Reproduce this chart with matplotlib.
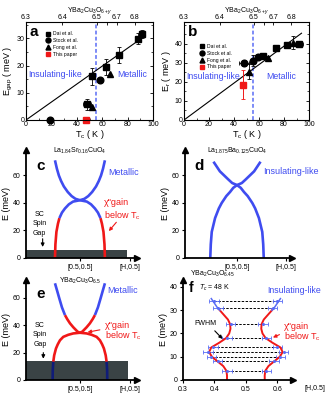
import matplotlib
matplotlib.use("Agg")
import matplotlib.pyplot as plt
import numpy as np

plt.rcParams['font.family'] = ['Liberation Sans', 'DejaVu Sans']
plt.rcParams['mathtext.fontset'] = 'custom'
plt.rcParams['mathtext.rm'] = 'Liberation Sans'
plt.rcParams['mathtext.it'] = 'Liberation Sans:italic'

BLUE = "#3f4cf0"
LBLUE = "#5a6cf5"
RED = "#f01818"
NAVY = "#101c78"
GRAY = "#3a4345"

# ---- panel a: spin gap vs Tc ----
a_dai_T = [48, 52, 63, 73.5, 88.5, 91.5]
a_dai_E = [5.7, 16, 19.5, 23.8, 29.9, 31.7]
a_dai_err = [2, 3, 3, 3, 2, 1.5]
a_stock_T = [19, 58.5]
a_stock_E = [0, 14.7]
a_fong_T = [52, 66]
a_fong_E = [4.9, 16.8]
a_this_T = [47]
a_this_E = [0]
a_fit = [(0, 0), (94, 31)]

# ---- panel b: resonance energy vs Tc ----
b_dai_T = [63.5, 73.5, 82, 92]
b_dai_E = [33.8, 37.7, 39.5, 40.2]
b_dai_err = [1, 1.2, 1, 1.5]
b_stock_T = [48, 55, 59.5]
b_stock_E = [30, 31.2, 33.3]
b_stock_err = [1.5, 3, 1.5]
b_fong_T = [52, 67, 87]
b_fong_E = [25.4, 32.5, 40.7]
b_fong_err = [4, 1, 3.5]
b_this_T = [47]
b_this_E = [18.6]
b_this_err = [7.5]
b_fit = [(0, 0), (94, 45.6)]

# top axis (YBCO oxygen content)
dop_pos = [0, 28.6, 55.6, 63.7, 71.4, 85.8]
dop_lab = ["6.3", "6.4", "6.5", "", "6.7", "6.8"]

# ---- schematic dispersions (energy, half width) ----
c_low_E = [0, 10, 19, 25, 29, 33, 36, 39, 41, 42]
c_low_w = [0.225, 0.221, 0.212, 0.198, 0.185, 0.162, 0.135, 0.1, 0.062, 0.0]
c_up_E = [42, 43, 45, 48, 52, 56, 60, 65, 71]
c_up_w = [0.0, 0.04, 0.075, 0.11, 0.145, 0.17, 0.19, 0.208, 0.225]

d_low_E = [0, 10, 19, 29, 36, 40, 45, 48, 51, 53]
d_low_w = [0.25, 0.245, 0.236, 0.205, 0.17, 0.143, 0.1, 0.065, 0.035, 0.0]
d_up_E = [53, 54.5, 57, 60, 63, 66.5, 70]
d_up_w = [0.0, 0.045, 0.08, 0.12, 0.16, 0.19, 0.22]

e_low_E = [0, 7, 13.4, 18, 23, 26, 29, 31.5, 33, 34, 34.5]
e_low_w = [0.246, 0.245, 0.24, 0.232, 0.216, 0.2, 0.18, 0.15, 0.105, 0.06, 0.0]
e_up_E = [34.5, 35.2, 36.5, 38.5, 41.4, 44.5, 47.4, 53, 59.6, 65, 70.6]
e_up_w = [0.0, 0.02, 0.036, 0.06, 0.09, 0.115, 0.135, 0.162, 0.186, 0.205, 0.225]

# ---- panel f: measured peak positions ----
f_E = [4, 8, 10, 12, 14, 18, 24, 31, 34]
f_left = [0.44, 0.41, 0.39, 0.38, 0.395, 0.44, 0.452, 0.412, 0.398]
f_right = [0.565, 0.59, 0.61, 0.62, 0.60, 0.565, 0.555, 0.585, 0.60]
f_xerr = 0.015
f_curve_E = [0, 2, 4, 6, 8, 10, 12, 14, 16, 18, 20, 22, 24, 26, 28, 30]
f_curve_w = [0.06, 0.06, 0.062, 0.072, 0.09, 0.108, 0.117, 0.11, 0.085, 0.063,
             0.053, 0.049, 0.05, 0.057, 0.07, 0.083]
f_top_E = [30, 31, 33, 35]
f_top_w = [0.083, 0.09, 0.1, 0.11]

fig = plt.figure(figsize=(3.33, 3.98), dpi=100)


def fx(px):
    return px / 333.0


def fy(py):
    return 1 - py / 398.0


def scatter_panel(ax, label, ylabel, ylim, yticks):
    ax.set_xlim(0, 100)
    ax.set_ylim(*ylim)
    ax.set_xticks([0, 20, 40, 60, 80, 100])
    ax.set_yticks(yticks)
    ax.xaxis.set_minor_locator(matplotlib.ticker.MultipleLocator(10))
    ax.yaxis.set_minor_locator(matplotlib.ticker.MultipleLocator(5))
    ax.tick_params(labelsize=5, length=2, width=0.6, pad=1, direction="in",
                   top=False, right=True)
    ax.tick_params(which="minor", length=1.2, width=0.5, direction="in", right=True)
    ax.set_xlabel("T$_{\\rm c}$ ( K )", fontsize=6.5, labelpad=0)
    ax.set_ylabel(ylabel, fontsize=6.5, labelpad=1)
    for s in ax.spines.values():
        s.set_linewidth(0.7)
    top = ax.twiny()
    top.set_xlim(0, 100)
    top.set_xticks(dop_pos)
    top.set_xticklabels(dop_lab)
    top.tick_params(labelsize=5, length=2, width=0.6, pad=0.5, direction="in")
    top.set_xlabel("YBa$_2$Cu$_3$O$_{6+y}$", fontsize=5, labelpad=2)
    ax.text(3, ylim[1] * 0.9, label, fontsize=11, fontweight="bold", va="center")
    ax.axvline(55.5, color=LBLUE, ls=(0, (2.5, 1.5)), lw=1.1)
    return ax


# panel a
ax = fig.add_axes([fx(26), fy(120), fx(127), fy(22) - fy(120)])
scatter_panel(ax, "a", "E$_{\\rm gap}$ ( meV )", (0, 36), [0, 10, 20, 30])
ax.plot([p[0] for p in a_fit], [p[1] for p in a_fit], color="k", lw=0.8)
ax.errorbar(a_dai_T, a_dai_E, yerr=a_dai_err, xerr=[3, 0, 0, 0, 0, 0], fmt="none",
            ecolor="k", elinewidth=0.6, capsize=1.2, capthick=0.6)
ax.plot(a_dai_T, a_dai_E, "ks", ms=4.8, label="Dai et al.")
ax.plot(a_stock_T, a_stock_E, "ko", ms=4.8, label="Stock et al.", clip_on=False, zorder=5)
ax.plot(a_fong_T, a_fong_E, "k^", ms=4.8, label="Fong et al.")
ax.plot(a_this_T, a_this_E, "s", color=RED, ms=4.8, label="This paper",
        clip_on=False, zorder=5)
ax.legend(loc="upper left", bbox_to_anchor=(0.13, 0.93), fontsize=3.6, frameon=False,
          handlelength=1, handletextpad=0.6, labelspacing=0.35, markerscale=0.75,
          borderpad=0)
ax.text(1.5, 16.8, "Insulating-like", color=BLUE, fontsize=6.3, va="center")
ax.text(72, 16.8, "Metallic", color=BLUE, fontsize=6.3, va="center")

# panel b
ax = fig.add_axes([fx(184), fy(120), fx(125), fy(22) - fy(120)])
scatter_panel(ax, "b", "E$_{\\rm r}$ ( meV )", (0, 51.5), [0, 10, 20, 30, 40])
ax.plot([p[0] for p in b_fit], [p[1] for p in b_fit], color="k", lw=0.8)
ax.errorbar(b_dai_T, b_dai_E, yerr=b_dai_err, xerr=[0, 0, 0, 3], fmt="none",
            ecolor="k", elinewidth=0.6, capsize=1.2, capthick=0.6)
ax.errorbar(b_stock_T, b_stock_E, yerr=b_stock_err, xerr=[4, 0, 0], fmt="none",
            ecolor="k", elinewidth=0.6, capsize=1.2, capthick=0.6)
ax.errorbar(b_fong_T, b_fong_E, yerr=b_fong_err, fmt="none",
            ecolor="k", elinewidth=0.6, capsize=1.2, capthick=0.6)
ax.errorbar(b_this_T, b_this_E, yerr=b_this_err, fmt="none",
            ecolor=RED, elinewidth=0.7, capsize=1.2, capthick=0.6)
ax.plot(b_dai_T, b_dai_E, "ks", ms=4.8, label="Dai et al.")
ax.plot(b_stock_T, b_stock_E, "ko", ms=4.8, label="Stock et al.")
ax.plot(b_fong_T, b_fong_E, "k^", ms=4.8, label="Fong et al.")
ax.plot(b_this_T, b_this_E, "s", color=RED, ms=4.8, label="This paper")
ax.legend(loc="upper left", bbox_to_anchor=(0.1, 0.8), fontsize=3.6, frameon=False,
          handlelength=1, handletextpad=0.6, labelspacing=0.35, markerscale=0.75,
          borderpad=0)
ax.text(2, 23, "Insulating-like", color=BLUE, fontsize=6.3, va="center")
ax.text(66, 23, "Metallic", color=BLUE, fontsize=6.3, va="center")


def arrow_axes(ax, xlim, ylim):
    ax.set_xlim(*xlim)
    ax.set_ylim(*ylim)
    for s in ["top", "right"]:
        ax.spines[s].set_visible(False)
    for s in ["left", "bottom"]:
        ax.spines[s].set_linewidth(1.3)
    ax.plot(1, 0, ">k", ms=4, transform=ax.transAxes, clip_on=False)
    ax.plot(0, 1, "^k", ms=4, transform=ax.transAxes, clip_on=False)
    ax.tick_params(labelsize=5, length=2.5, width=0.8, pad=1.5)
    ax.set_ylabel("E (meV)", fontsize=6.5, labelpad=1)


def branch(ax, E, w, center, color, lw=1.9):
    E = np.asarray(E)
    w = np.asarray(w)
    ax.plot(center - w, E, color=color, lw=lw, solid_capstyle="butt")
    ax.plot(center + w, E, color=color, lw=lw, solid_capstyle="butt")


def dispersion_axes(ax, title, letter):
    arrow_axes(ax, (0, 1), (0, ax.get_ylim()[1]))
    ax.set_xticks([0.486, 0.94])
    ax.set_xticklabels(["[0.5,0.5]", "[H,0.5]"])
    ax.text(0.486, ax.get_ylim()[1] * 0.99, title, fontsize=5, ha="center", va="center")
    ax.text(0.09, ax.get_ylim()[1] * 0.855, letter, fontsize=11, fontweight="bold",
            va="center")


# panel c
ax = fig.add_axes([fx(26), fy(258), fx(111), fy(150) - fy(258)])
ax.set_ylim(0, 78.5)
dispersion_axes(ax, "La$_{1.84}$Sr$_{0.16}$CuO$_4$", "c")
ax.set_yticks([0, 20, 40, 60])
ax.add_patch(plt.Rectangle((0, 0), 0.91, 6, color=GRAY, zorder=1, lw=0))
branch(ax, c_low_E[:5], c_low_w[:5], 0.486, RED)
branch(ax, c_low_E[4:], c_low_w[4:], 0.486, BLUE)
branch(ax, c_up_E, c_up_w, 0.486, BLUE)
ax.text(0.74, 62, "Metallic", color=BLUE, fontsize=6.5, va="center")
ax.text(0.7, 40, "χ\"gain", color=RED, fontsize=6.5, va="center")
ax.text(0.7, 31, "below T$_{\\rm c}$", color=RED, fontsize=6.5, va="center")
ax.annotate("", xy=(0.73, 18), xytext=(0.83, 27.5),
            arrowprops=dict(arrowstyle="-|>", color=RED, lw=0.8, mutation_scale=5))
ax.text(0.12, 25, "SC\nSpin\nGap", fontsize=5, ha="center", va="center",
        linespacing=1.5)
ax.annotate("", xy=(0.15, 6), xytext=(0.15, 16),
            arrowprops=dict(arrowstyle="-|>", color="k", lw=0.8, mutation_scale=5))

# panel d
ax = fig.add_axes([fx(185), fy(258), fx(107), fy(150) - fy(258)])
ax.set_ylim(0, 78.5)
dispersion_axes(ax, "La$_{1.875}$Ba$_{0.125}$CuO$_4$", "d")
ax.set_yticks([0, 20, 40, 60])
branch(ax, d_low_E, d_low_w, 0.486, BLUE)
branch(ax, d_up_E, d_up_w, 0.486, BLUE)
ax.text(0.73, 63, "Insulating-like", color=BLUE, fontsize=6.5, va="center")

# panel e
ax = fig.add_axes([fx(26), fy(380), fx(111), fy(280) - fy(380)])
ax.set_ylim(0, 73)
dispersion_axes(ax, "YBa$_2$Cu$_3$O$_{6.5}$", "e")
ax.set_yticks([0, 20, 40, 60])
ax.add_patch(plt.Rectangle((0, 0), 0.916, 14, color=GRAY, zorder=1, lw=0))
branch(ax, e_low_E[:3], e_low_w[:3], 0.486, NAVY)
branch(ax, e_low_E[2:], e_low_w[2:], 0.486, RED)
branch(ax, e_up_E[:7], e_up_w[:7], 0.486, RED)
branch(ax, e_up_E[6:], e_up_w[6:], 0.486, BLUE)
ax.text(0.73, 65, "Metallic", color=BLUE, fontsize=6.5, va="center")
ax.text(0.71, 40, "χ\"gain", color=RED, fontsize=6.5, va="center")
ax.text(0.71, 32, "below T$_{\\rm c}$", color=RED, fontsize=6.5, va="center")
ax.annotate("", xy=(0.53, 34.5), xytext=(0.69, 37),
            arrowprops=dict(arrowstyle="-|>", color=RED, lw=0.8, mutation_scale=5))
ax.text(0.126, 33, "SC\nSpin\nGap", fontsize=5, ha="center", va="center",
        linespacing=1.5)
ax.annotate("", xy=(0.156, 13.5), xytext=(0.156, 22),
            arrowprops=dict(arrowstyle="-|>", color="k", lw=0.8, mutation_scale=5))

# panel f
ax = fig.add_axes([fx(183), fy(380), fx(110), fy(280) - fy(380)])
arrow_axes(ax, (0.3, 0.65), (0, 43))
ax.set_xticks([0.3, 0.4, 0.5, 0.6])
ax.set_xticklabels(["0.3", "0.4", "0.5", "0.6"])
ax.set_yticks([0, 10, 20, 30, 40])
ax.text(0.72, -3.5, "[H,0.5]", fontsize=5, ha="center", va="center", clip_on=False)
for E, l, r in zip(f_E, f_left, f_right):
    ax.plot([l, r], [E, E], color="k", lw=0.7, ls=(0, (2.5, 1.5)))
ax.errorbar(f_left + f_right, f_E + f_E, xerr=f_xerr, fmt="o", ms=1.2, color=LBLUE,
            ecolor=LBLUE, elinewidth=0.6, capsize=1.2, capthick=0.6)
cw = np.asarray(f_curve_w)
ax.plot(0.5 - cw, f_curve_E, color=RED, lw=1.4)
ax.plot(0.5 + cw, f_curve_E, color=RED, lw=1.4)
tw = np.asarray(f_top_w)
ax.plot(0.5 - tw, f_top_E, color=LBLUE, lw=1.1)
ax.plot(0.5 + tw, f_top_E, color=LBLUE, lw=1.1)
ax.text(0.318, 39.5, "f", fontsize=10, fontweight="bold", va="center")
ax.text(0.395, 45.5, "YBa$_2$Cu$_3$O$_{6.45}$", fontsize=5, ha="center", va="center",
        clip_on=False)
ax.text(0.40, 39.5, "$T_c$ = 48 K", fontsize=5, ha="center", va="center")
ax.text(0.655, 38.4, "Insulating-like", color=BLUE, fontsize=6.3, ha="center",
        va="center", clip_on=False)
ax.text(0.37, 24.5, "FWHM", fontsize=5, ha="center", va="center")
ax.annotate("", xy=(0.432, 16.8), xytext=(0.395, 22),
            arrowprops=dict(arrowstyle="-|>", color="k", lw=0.8, mutation_scale=5))
ax.text(0.62, 23, "χ\"gain", color=RED, fontsize=6.5, va="center", clip_on=False)
ax.text(0.62, 18.5, "below T$_{\\rm c}$", color=RED, fontsize=6.5, va="center",
        clip_on=False)
ax.annotate("", xy=(0.578, 17.8), xytext=(0.615, 20),
            arrowprops=dict(arrowstyle="-|>", color=RED, lw=0.8, mutation_scale=5))

fig.savefig("out.png", dpi=100)
